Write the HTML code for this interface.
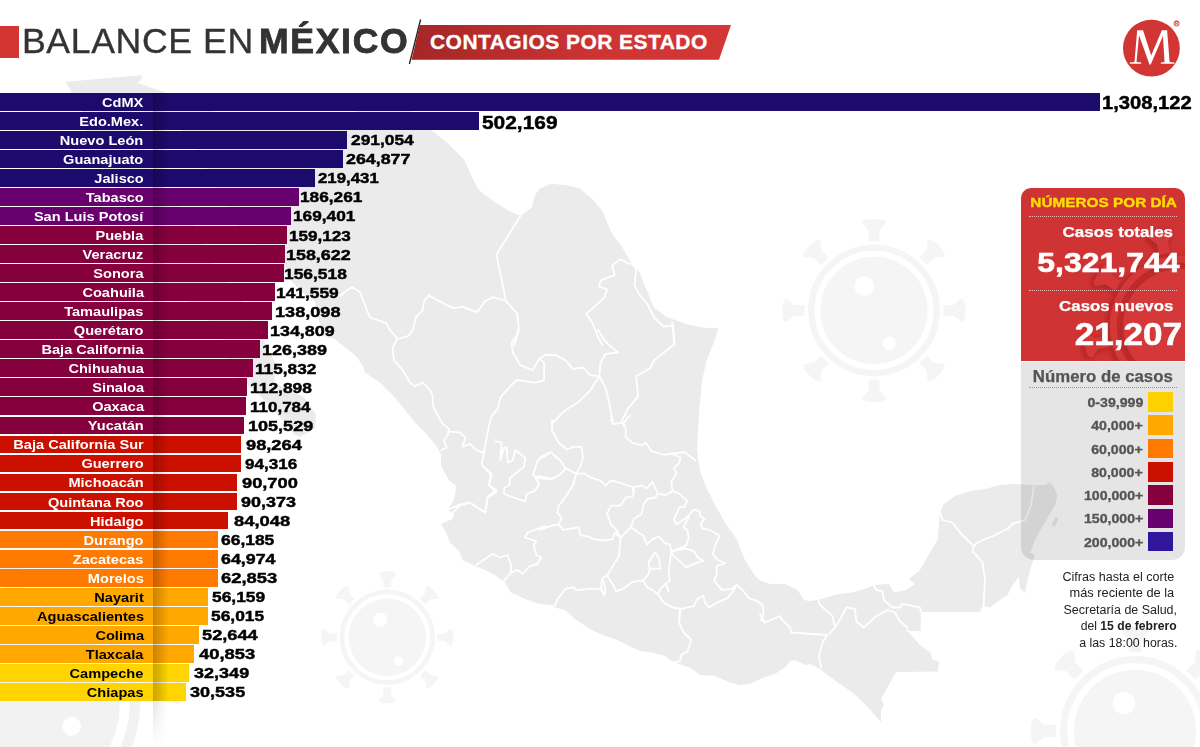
<!DOCTYPE html>
<html lang="es"><head><meta charset="utf-8"><title>Balance en México</title>
<style>
html,body{margin:0;padding:0;background:#fff;}
body{width:1200px;height:747px;position:relative;overflow:hidden;font-family:"Liberation Sans",sans-serif;}
.abs{position:absolute;}
.bar{position:absolute;left:0;}
.lbl{position:absolute;right:0;top:0.9px;white-space:nowrap;font-weight:bold;font-size:13.5px;line-height:18px;transform-origin:right center;transform:scaleX(1.08);}
.val{position:absolute;white-space:nowrap;font-weight:bold;color:#000;font-size:15.1px;line-height:18px;-webkit-text-stroke:0.45px #000;transform-origin:left center;transform:scaleX(1.15);}
.val.big{font-size:18px;margin-top:0.8px}
.t{position:absolute;white-space:nowrap;}
</style></head>
<body>
<svg class="abs" style="left:0;top:0" width="1200" height="747" viewBox="0 0 1200 747">
<g transform="translate(874.0 310.4) rotate(0.0)" fill="#f5f5f5">
<circle r="53.6"/>
<circle r="62.7" fill="none" stroke="#f5f5f5" stroke-width="6.3"/>
<path d="M-5.40,-69.42 L-5.40,-79.88 L-11.71,-87.12 C-11.71,-90.80 -5.86,-91.46 0,-91.46 C5.86,-91.46 11.71,-90.80 11.71,-87.12 L5.40,-79.88 L5.40,-69.42 Z" transform="rotate(0)"/>
<path d="M-5.40,-69.42 L-5.40,-79.88 L-11.71,-87.12 C-11.71,-90.80 -5.86,-91.46 0,-91.46 C5.86,-91.46 11.71,-90.80 11.71,-87.12 L5.40,-79.88 L5.40,-69.42 Z" transform="rotate(45)"/>
<path d="M-5.40,-69.42 L-5.40,-79.88 L-11.71,-87.12 C-11.71,-90.80 -5.86,-91.46 0,-91.46 C5.86,-91.46 11.71,-90.80 11.71,-87.12 L5.40,-79.88 L5.40,-69.42 Z" transform="rotate(90)"/>
<path d="M-5.40,-69.42 L-5.40,-79.88 L-11.71,-87.12 C-11.71,-90.80 -5.86,-91.46 0,-91.46 C5.86,-91.46 11.71,-90.80 11.71,-87.12 L5.40,-79.88 L5.40,-69.42 Z" transform="rotate(135)"/>
<path d="M-5.40,-69.42 L-5.40,-79.88 L-11.71,-87.12 C-11.71,-90.80 -5.86,-91.46 0,-91.46 C5.86,-91.46 11.71,-90.80 11.71,-87.12 L5.40,-79.88 L5.40,-69.42 Z" transform="rotate(180)"/>
<path d="M-5.40,-69.42 L-5.40,-79.88 L-11.71,-87.12 C-11.71,-90.80 -5.86,-91.46 0,-91.46 C5.86,-91.46 11.71,-90.80 11.71,-87.12 L5.40,-79.88 L5.40,-69.42 Z" transform="rotate(225)"/>
<path d="M-5.40,-69.42 L-5.40,-79.88 L-11.71,-87.12 C-11.71,-90.80 -5.86,-91.46 0,-91.46 C5.86,-91.46 11.71,-90.80 11.71,-87.12 L5.40,-79.88 L5.40,-69.42 Z" transform="rotate(270)"/>
<path d="M-5.40,-69.42 L-5.40,-79.88 L-11.71,-87.12 C-11.71,-90.80 -5.86,-91.46 0,-91.46 C5.86,-91.46 11.71,-90.80 11.71,-87.12 L5.40,-79.88 L5.40,-69.42 Z" transform="rotate(315)"/>
<circle cx="-9.7" cy="-24.3" r="9.9" fill="#fff"/>
<circle cx="15.3" cy="32.9" r="6.6" fill="#fff"/>
</g>
<g transform="translate(387.3 637.3) rotate(0.0)" fill="#f5f5f5">
<circle r="38.7"/>
<circle r="45.2" fill="none" stroke="#f5f5f5" stroke-width="4.5"/>
<path d="M-3.90,-50.11 L-3.90,-57.66 L-8.46,-62.89 C-8.46,-65.55 -4.23,-66.02 0,-66.02 C4.23,-66.02 8.46,-65.55 8.46,-62.89 L3.90,-57.66 L3.90,-50.11 Z" transform="rotate(0)"/>
<path d="M-3.90,-50.11 L-3.90,-57.66 L-8.46,-62.89 C-8.46,-65.55 -4.23,-66.02 0,-66.02 C4.23,-66.02 8.46,-65.55 8.46,-62.89 L3.90,-57.66 L3.90,-50.11 Z" transform="rotate(45)"/>
<path d="M-3.90,-50.11 L-3.90,-57.66 L-8.46,-62.89 C-8.46,-65.55 -4.23,-66.02 0,-66.02 C4.23,-66.02 8.46,-65.55 8.46,-62.89 L3.90,-57.66 L3.90,-50.11 Z" transform="rotate(90)"/>
<path d="M-3.90,-50.11 L-3.90,-57.66 L-8.46,-62.89 C-8.46,-65.55 -4.23,-66.02 0,-66.02 C4.23,-66.02 8.46,-65.55 8.46,-62.89 L3.90,-57.66 L3.90,-50.11 Z" transform="rotate(135)"/>
<path d="M-3.90,-50.11 L-3.90,-57.66 L-8.46,-62.89 C-8.46,-65.55 -4.23,-66.02 0,-66.02 C4.23,-66.02 8.46,-65.55 8.46,-62.89 L3.90,-57.66 L3.90,-50.11 Z" transform="rotate(180)"/>
<path d="M-3.90,-50.11 L-3.90,-57.66 L-8.46,-62.89 C-8.46,-65.55 -4.23,-66.02 0,-66.02 C4.23,-66.02 8.46,-65.55 8.46,-62.89 L3.90,-57.66 L3.90,-50.11 Z" transform="rotate(225)"/>
<path d="M-3.90,-50.11 L-3.90,-57.66 L-8.46,-62.89 C-8.46,-65.55 -4.23,-66.02 0,-66.02 C4.23,-66.02 8.46,-65.55 8.46,-62.89 L3.90,-57.66 L3.90,-50.11 Z" transform="rotate(270)"/>
<path d="M-3.90,-50.11 L-3.90,-57.66 L-8.46,-62.89 C-8.46,-65.55 -4.23,-66.02 0,-66.02 C4.23,-66.02 8.46,-65.55 8.46,-62.89 L3.90,-57.66 L3.90,-50.11 Z" transform="rotate(315)"/>
<circle cx="-7.0" cy="-17.6" r="7.1" fill="#fff"/>
<circle cx="11.0" cy="23.8" r="4.8" fill="#fff"/>
</g>
<g transform="translate(1135.0 731.0) rotate(0.0)" fill="#f5f5f5">
<circle r="61.1"/>
<circle r="71.4" fill="none" stroke="#f5f5f5" stroke-width="7.1"/>
<path d="M-6.15,-79.12 L-6.15,-91.05 L-13.35,-99.30 C-13.35,-103.50 -6.67,-104.25 0,-104.25 C6.67,-104.25 13.35,-103.50 13.35,-99.30 L6.15,-91.05 L6.15,-79.12 Z" transform="rotate(0)"/>
<path d="M-6.15,-79.12 L-6.15,-91.05 L-13.35,-99.30 C-13.35,-103.50 -6.67,-104.25 0,-104.25 C6.67,-104.25 13.35,-103.50 13.35,-99.30 L6.15,-91.05 L6.15,-79.12 Z" transform="rotate(45)"/>
<path d="M-6.15,-79.12 L-6.15,-91.05 L-13.35,-99.30 C-13.35,-103.50 -6.67,-104.25 0,-104.25 C6.67,-104.25 13.35,-103.50 13.35,-99.30 L6.15,-91.05 L6.15,-79.12 Z" transform="rotate(90)"/>
<path d="M-6.15,-79.12 L-6.15,-91.05 L-13.35,-99.30 C-13.35,-103.50 -6.67,-104.25 0,-104.25 C6.67,-104.25 13.35,-103.50 13.35,-99.30 L6.15,-91.05 L6.15,-79.12 Z" transform="rotate(135)"/>
<path d="M-6.15,-79.12 L-6.15,-91.05 L-13.35,-99.30 C-13.35,-103.50 -6.67,-104.25 0,-104.25 C6.67,-104.25 13.35,-103.50 13.35,-99.30 L6.15,-91.05 L6.15,-79.12 Z" transform="rotate(180)"/>
<path d="M-6.15,-79.12 L-6.15,-91.05 L-13.35,-99.30 C-13.35,-103.50 -6.67,-104.25 0,-104.25 C6.67,-104.25 13.35,-103.50 13.35,-99.30 L6.15,-91.05 L6.15,-79.12 Z" transform="rotate(225)"/>
<path d="M-6.15,-79.12 L-6.15,-91.05 L-13.35,-99.30 C-13.35,-103.50 -6.67,-104.25 0,-104.25 C6.67,-104.25 13.35,-103.50 13.35,-99.30 L6.15,-91.05 L6.15,-79.12 Z" transform="rotate(270)"/>
<path d="M-6.15,-79.12 L-6.15,-91.05 L-13.35,-99.30 C-13.35,-103.50 -6.67,-104.25 0,-104.25 C6.67,-104.25 13.35,-103.50 13.35,-99.30 L6.15,-91.05 L6.15,-79.12 Z" transform="rotate(315)"/>
<circle cx="-11.1" cy="-27.8" r="11.2" fill="#fff"/>
<circle cx="17.4" cy="37.5" r="7.5" fill="#fff"/>
</g>
<g transform="translate(30.0 705.0) rotate(-8.0)" fill="#f2f2f2">
<circle r="89.6"/>
<circle r="104.8" fill="none" stroke="#f2f2f2" stroke-width="10.4"/>
<path d="M-9.02,-116.05 L-9.02,-133.54 L-19.58,-145.64 C-19.58,-151.80 -9.79,-152.90 0,-152.90 C9.79,-152.90 19.58,-151.80 19.58,-145.64 L9.02,-133.54 L9.02,-116.05 Z" transform="rotate(0)"/>
<path d="M-9.02,-116.05 L-9.02,-133.54 L-19.58,-145.64 C-19.58,-151.80 -9.79,-152.90 0,-152.90 C9.79,-152.90 19.58,-151.80 19.58,-145.64 L9.02,-133.54 L9.02,-116.05 Z" transform="rotate(45)"/>
<path d="M-9.02,-116.05 L-9.02,-133.54 L-19.58,-145.64 C-19.58,-151.80 -9.79,-152.90 0,-152.90 C9.79,-152.90 19.58,-151.80 19.58,-145.64 L9.02,-133.54 L9.02,-116.05 Z" transform="rotate(90)"/>
<path d="M-9.02,-116.05 L-9.02,-133.54 L-19.58,-145.64 C-19.58,-151.80 -9.79,-152.90 0,-152.90 C9.79,-152.90 19.58,-151.80 19.58,-145.64 L9.02,-133.54 L9.02,-116.05 Z" transform="rotate(135)"/>
<path d="M-9.02,-116.05 L-9.02,-133.54 L-19.58,-145.64 C-19.58,-151.80 -9.79,-152.90 0,-152.90 C9.79,-152.90 19.58,-151.80 19.58,-145.64 L9.02,-133.54 L9.02,-116.05 Z" transform="rotate(180)"/>
<path d="M-9.02,-116.05 L-9.02,-133.54 L-19.58,-145.64 C-19.58,-151.80 -9.79,-152.90 0,-152.90 C9.79,-152.90 19.58,-151.80 19.58,-145.64 L9.02,-133.54 L9.02,-116.05 Z" transform="rotate(225)"/>
<path d="M-9.02,-116.05 L-9.02,-133.54 L-19.58,-145.64 C-19.58,-151.80 -9.79,-152.90 0,-152.90 C9.79,-152.90 19.58,-151.80 19.58,-145.64 L9.02,-133.54 L9.02,-116.05 Z" transform="rotate(270)"/>
<path d="M-9.02,-116.05 L-9.02,-133.54 L-19.58,-145.64 C-19.58,-151.80 -9.79,-152.90 0,-152.90 C9.79,-152.90 19.58,-151.80 19.58,-145.64 L9.02,-133.54 L9.02,-116.05 Z" transform="rotate(315)"/>
<circle cx="38.2" cy="26.8" r="9.4" fill="#fff"/>
</g>

<path d="M65.8,81.7 L141.7,75.3 L141.9,78.3 L137.2,84.4 L139.5,83.6 L163.5,92.0 L172.0,97.0 L262.4,127.9 L355.2,127.9 L355.2,110.8 L409.8,110.8 L432.0,130.7 L448.0,143.5 L464.0,159.6 L470.7,174.0 L478.7,190.0 L493.0,201.0 L509.0,211.0 L520.5,215.8 L531.7,207.8 L535.0,195.0 L539.8,188.5 L551.0,183.7 L567.0,185.3 L580.0,188.5 L592.8,199.8 L602.4,211.0 L612.0,233.5 L621.7,246.4 L631.3,262.4 L639.4,272.0 L645.8,288.0 L653.8,307.4 L666.7,317.0 L689.0,325.0 L708.4,328.3 L718.4,328.0 L714.0,342.0 L706.0,362.0 L702.0,382.0 L699.5,406.5 L698.0,426.5 L697.0,450.6 L700.0,471.0 L706.0,487.0 L714.0,503.0 L724.0,521.0 L736.5,539.0 L744.5,559.0 L754.5,575.0 L759.0,580.0 L770.0,584.0 L785.0,584.0 L797.5,590.0 L804.0,600.0 L810.0,601.0 L820.0,599.5 L837.5,594.0 L852.5,592.5 L865.0,589.0 L874.0,585.0 L889.0,584.0 L894.0,592.5 L906.0,590.0 L915.0,584.0 L909.0,579.0 L920.0,570.0 L930.0,552.5 L937.5,540.0 L939.0,525.0 L940.0,512.5 L944.0,504.0 L955.0,496.0 L970.0,491.0 L985.0,489.0 L1000.0,485.0 L1015.0,484.0 L1032.5,485.0 L1045.0,485.0 L1050.0,482.5 L1054.0,487.5 L1057.5,496.0 L1055.0,505.0 L1049.0,515.0 L1044.0,524.0 L1039.0,532.5 L1035.0,540.0 L1032.5,547.5 L1030.0,552.5 L1035.0,555.0 L1032.5,562.5 L1030.0,570.0 L1027.5,580.0 L1025.0,593.0 L1020.0,588.0 L1019.0,577.0 L1012.5,585.0 L1007.5,595.0 L1000.0,600.0 L990.0,607.5 L982.5,606.0 L980.0,612.0 L921.0,612.0 L920.5,631.0 L907.5,631.0 L920.0,645.0 L930.0,652.5 L932.5,660.0 L939.0,661.0 L938.0,671.5 L896.0,672.0 L881.0,699.0 L884.0,705.0 L881.0,710.0 L881.0,722.0 L865.0,704.0 L852.5,692.5 L840.0,684.0 L827.5,675.0 L820.0,669.0 L810.0,664.0 L805.0,665.0 L795.0,660.0 L790.0,661.0 L785.0,667.5 L775.0,674.0 L760.0,679.0 L750.0,684.0 L740.0,685.0 L730.0,682.5 L715.0,676.0 L700.0,675.0 L690.0,667.5 L674.0,662.5 L665.0,656.0 L652.5,652.5 L640.0,651.0 L632.5,647.5 L617.5,640.0 L600.0,634.0 L590.0,629.0 L575.0,619.0 L565.0,610.0 L555.0,607.5 L540.0,604.0 L525.0,599.0 L511.0,592.5 L505.0,582.5 L495.0,575.0 L485.0,570.0 L475.0,566.0 L462.5,560.0 L459.0,551.0 L450.0,542.5 L446.0,532.5 L441.0,524.0 L452.5,519.0 L454.0,514.0 L447.5,510.0 L454.0,500.0 L455.5,492.0 L456.0,486.0 L449.0,480.0 L447.5,477.5 L441.0,466.0 L441.0,455.0 L437.5,447.5 L427.5,435.0 L415.0,422.5 L405.0,410.0 L395.0,397.5 L380.0,382.5 L365.0,372.5 L362.5,365.0 L355.0,355.0 L345.0,347.5 L335.0,339.0 L323.1,336.0 L318.2,318.0 L315.0,301.7 L300.4,290.8 L287.4,276.2 L277.6,257.9 L264.7,254.2 L248.4,237.6 L235.4,222.8 L225.7,204.2 L212.7,181.8 L206.2,166.8 L196.5,148.0 L180.3,129.0 L151.0,117.6 L141.3,110.0 L139.7,121.4 L142.9,140.4 L147.8,163.1 L160.8,185.6 L180.3,208.0 L193.2,222.8 L206.2,252.3 L222.5,278.0 L238.7,296.2 L253.3,321.6 L261.4,336.0 L276.0,364.8 L274.4,382.6 L287.4,389.7 L303.6,396.9 L315.9,414.6 L315.0,428.7 L300.4,436.8 L293.9,434.0 L280.9,418.1 L264.7,400.4 L245.2,382.6 L228.9,375.5 L225.7,361.2 L222.5,336.0 L206.2,318.0 L193.2,303.5 L180.3,298.0 L167.3,288.9 L151.0,270.7 L132.2,257.9 L157.5,257.9 L164.0,252.3 L160.8,230.2 L144.6,215.4 L128.3,200.5 L108.8,181.8 L102.4,163.1 L92.6,140.4 L79.6,121.4 L82.9,108.1 L73.1,102.3 L71.5,93.0 L70.2,89.5 L67.5,85.5Z" fill="#ebebeb"/>
<ellipse cx="1055" cy="522" rx="2" ry="5" transform="rotate(25 1055 522)" fill="#ebebeb"/>
<path d="M520.5,215.8 L496.4,254.4 L506.0,301.0 L517.3,313.8 L518.9,329.9 L514.1,345.0 M506.0,301.0 L493.2,297.1 L485.1,301.0 L477.1,312.2 L462.7,306.8 L453.0,308.1 L438.6,301.0 L428.9,295.2 L424.1,301.0 L422.5,310.6 L416.1,317.0 L412.9,329.9 L408.0,336.3 M629.7,264.0 L620.1,259.2 L612.0,265.6 L614.6,275.3 L600.8,280.1 L599.2,286.5 L607.2,289.7 L604.0,297.8 L586.3,313.8 L592.8,323.5 L597.6,336.3 L602.4,345.0 M631.3,262.4 L636.1,268.9 L634.5,284.9 L639.4,294.6 L647.4,304.2 L653.8,317.0 L663.5,326.7 L673.1,325.1 L674.7,345.0 M397.6,338.8 L392.6,347.5 L393.9,360.1 L402.6,370.1 L410.1,382.6 L415.1,386.3 L422.7,382.6 L430.2,390.1 L432.7,396.4 L432.7,405.1 L437.7,415.1 L442.7,423.9 L449.0,428.9 L447.7,435.2 L443.9,440.2 L446.5,447.7 L441.4,450.2 M449.0,431.4 L460.2,432.7 L465.2,437.7 L462.7,446.5 L470.2,443.9 L476.5,450.2 L484.0,452.7 M484.0,452.7 L489.0,425.2 L491.5,416.4 L497.8,408.9 L500.3,397.6 L510.3,386.3 L516.6,380.1 L535.4,382.6 L544.1,380.1 L544.1,362.6 L539.1,358.8 L532.9,370.1 L520.3,365.1 L512.8,352.5 L511.6,342.5 L516.6,336.3 L517.8,330.0 M539.1,358.8 L545.4,355.0 L555.4,355.0 L565.4,360.1 L572.9,368.8 L582.9,367.6 L590.5,375.1 L599.2,376.3 M599.2,376.3 L600.5,362.6 L605.5,353.8 L618.0,352.5 L610.5,346.3 L604.2,340.0 L598.0,330.0 M599.2,376.3 L590.5,390.1 L577.9,402.6 L565.4,410.1 L556.6,418.9 L551.6,423.9 M599.2,376.3 L605.5,387.6 L609.2,402.6 L613.0,423.9 M623.0,423.9 L630.0,415.1 M484.0,452.7 L481.5,464.0 L491.5,475.3 L489.0,485.3 L496.5,490.3 L487.8,496.5 L485.3,512.8 L470.2,502.8 L460.2,505.3 L452.7,512.8 M550.4,479.0 L532.9,475.3 L537.9,460.2 L550.4,452.7 M495.3,441.4 L501.6,442.7 L500.3,460.2 L504.1,447.7 L506.6,447.7 L507.8,462.7 L512.8,460.2 L515.3,450.2 L525.3,457.7 L524.1,466.5 L510.3,477.8 L509.1,485.3 L504.1,487.8 L504.1,494.0 L525.3,501.6 L526.6,494.0 L535.4,490.3 L539.1,484.0 L535.4,477.8 L551.6,479.0 M940.0,512.5 L942.5,520.0 L952.5,522.5 L960.0,532.5 L967.5,540.0 L973.8,546.2 L977.5,542.5 L992.5,536.2 L1007.5,528.8 L1012.5,523.8 L1025.0,520.0 L1031.2,505.0 L1033.8,486.2 M973.8,546.2 L972.5,551.2 L982.5,562.5 L985.0,580.0 L983.8,600.0 L983.8,606.2 M873.8,585.0 L876.2,590.0 L882.5,591.2 L883.8,600.0 L892.5,607.5 L900.0,607.5 L902.5,603.8 L920.0,607.5 L921.2,611.8 M907.5,631.2 L907.5,627.5 L900.0,621.2 L895.0,612.5 L887.5,610.0 L876.2,616.2 L863.8,627.5 L856.2,621.2 L855.0,608.8 L846.2,607.5 L841.2,617.5 L835.0,627.5 M818.8,601.2 L820.0,605.0 L832.5,616.2 L835.0,627.5 L830.0,633.2 M821.2,667.5 L818.8,656.2 L822.5,642.5 L827.5,635.0 L791.2,632.5 L790.0,627.5 L781.2,618.8 L780.0,616.2 L765.0,622.5 L760.0,613.8 M680.0,610.0 L678.8,622.5 L683.8,632.5 L691.2,640.0 L687.5,651.2 L681.2,655.0 L680.0,661.2 L673.8,662.5 M476.2,565.0 L492.5,553.8 L500.0,557.5 L507.5,555.0 L511.2,565.0 L511.2,572.5 L503.8,581.2 M511.2,572.5 L517.5,570.0 L522.5,573.8 L530.0,566.2 L537.5,563.8 L541.2,557.5 M541.2,557.5 L536.2,555.0 L533.8,545.0 L536.2,541.2 L525.0,537.5 L527.5,532.5 L545.0,526.2 M447.5,510.0 L458.8,505.0 L470.0,502.5 L485.0,512.5 L487.5,497.5 L496.2,492.5 L488.8,485.0 L491.2,473.8 L487.5,470.0 M624.0,426.5 L622.0,420.5 M672.2,322.1 L674.2,344.2 L654.1,360.3 L650.1,368.3 L636.1,376.3 L638.1,396.4 L628.0,408.5 L622.0,420.5 M352.0,287.0 L345.0,292.0 L340.0,296.0 M352.0,287.0 L360.0,292.0 L365.0,305.0 L370.0,317.5 L386.0,323.0 L390.0,330.0 L397.5,339.0 M408.0,336.0 L397.5,339.0 M552.1,420.0 L552.1,430.7 L558.8,442.8 L566.8,449.5 L573.5,446.8 L581.5,446.8 L582.9,457.5 L580.2,466.9 L576.2,473.6 M540.0,457.5 L550.7,452.1 L560.1,460.2 L565.4,468.2 L576.2,473.6 M540.0,476.3 L552.1,478.9 L561.4,473.6 L565.4,468.2 M576.2,473.6 L584.2,473.6 L590.9,477.6 L600.3,480.3 L605.6,485.6 L611.0,480.3 L620.4,482.9 L632.4,487.0 L633.8,493.7 M576.2,473.6 L573.5,484.3 L566.8,495.0 L558.8,505.7 L557.4,512.4 L561.4,517.8 L558.8,524.5 L550.7,525.8 L540.0,529.8 M558.8,524.5 L562.8,529.8 L572.1,528.5 L578.8,527.1 L580.2,535.2 L588.2,536.5 L593.6,539.2 L602.9,540.5 L612.3,539.2 L615.0,532.5 L620.4,537.9 M633.8,493.7 L632.4,496.3 L625.7,497.7 L620.4,505.7 L611.0,505.7 L607.0,513.8 L611.0,524.5 L616.3,529.8 L620.4,537.9 M633.8,493.7 L633.8,487.0 L641.8,485.6 L647.1,488.3 L652.5,481.6 L656.5,491.0 L657.9,493.7 M657.9,493.7 L655.2,497.7 L647.1,499.0 L643.1,505.7 L641.8,513.8 L633.8,519.1 L631.1,527.1 L620.4,537.9 M620.4,537.9 L619.0,556.6 L613.7,564.6 L607.0,575.4 L602.1,578.6 L601.1,587.4 L604.3,594.6 L605.6,590.1 L603.2,580.7 M631.1,527.1 L637.8,532.5 L643.1,535.2 L647.1,544.6 L652.5,539.2 L659.2,536.5 L664.6,543.2 L669.9,544.6 L671.3,551.3 M657.9,493.7 L665.9,495.0 L672.6,491.0 L671.3,481.6 L676.6,473.6 L673.9,468.2 L679.3,462.9 L680.6,457.5 L671.3,453.5 M611.0,420.0 L613.7,424.0 L623.0,422.7 L625.7,428.0 L625.7,437.4 L632.4,442.8 L641.8,445.4 L645.8,442.8 L651.2,450.8 L659.2,453.5 L664.6,454.8 L671.3,453.5 L684.6,452.1 L690.0,456.2 L695.4,460.2 M672.6,491.0 L679.3,493.7 L683.3,497.7 L687.3,500.4 L684.6,507.1 L679.3,507.1 L676.6,513.8 L673.9,519.1 L676.6,524.5 L684.6,519.1 L690.0,513.8 L687.3,520.4 L683.3,527.1 L687.3,529.8 L688.7,537.9 L686.0,545.9 L671.3,551.3 M690.0,513.8 L694.0,509.7 L699.4,511.1 L700.7,516.4 L704.7,519.1 L700.7,523.1 L702.1,528.5 L708.8,529.8 L716.8,533.8 L719.5,536.5 L715.4,544.6 L712.8,553.9 L716.8,559.3 L724.8,563.3 L716.8,566.0 L716.8,574.0 L714.1,580.7 L722.1,590.1 L731.5,588.8 L736.9,584.7 M671.3,551.3 L679.3,549.9 L686.0,548.6 L694.0,551.3 L698.0,557.9 L703.4,560.6 L695.4,563.3 L686.0,567.3 L679.3,560.6 L673.9,556.6 L671.3,551.3 M671.3,551.3 L669.9,562.0 L668.6,572.7 L669.9,580.7 L665.9,583.4 L668.6,591.4 M655.2,552.6 L659.2,559.3 L660.5,568.7 L649.8,568.7 L648.5,562.0 L655.2,552.6 M649.8,568.7 L648.5,574.0 L643.1,580.7 L647.1,587.4 L652.5,590.1 L657.9,594.1 L660.5,588.8 L665.9,583.4 M607.0,575.4 L613.7,586.1 L616.3,591.4 L623.0,588.8 L632.4,582.1 L637.8,580.7 L643.1,580.7 M540.0,604.8 L554.7,606.2 L557.4,599.5 L565.4,588.8 L573.5,587.4 L576.2,590.1 L590.9,588.8 L600.3,588.8 L604.3,595.4 M657.9,594.1 L663.2,602.1 L672.6,607.5 L680.6,608.8 L694.0,606.2 L696.7,599.5 L703.4,595.4 L704.7,602.1 L708.8,607.5 L718.1,602.1 L727.5,598.1 L732.9,591.4 L736.9,584.7 M680.6,608.8 L679.3,620.1 M736.9,584.7 L743.6,591.4 L748.9,598.1 L757.0,600.8 L762.3,604.8 L763.7,612.9 L761.0,620.1 M761.0,620.1 L765.0,622.5 M679.3,620.1 L678.8,622.5" fill="none" stroke="#fff" stroke-width="1.8" stroke-linejoin="round" stroke-linecap="round" opacity="1"/>

</svg>
<div class="abs" style="left:0;top:26px;width:19px;height:32px;background:#d33533"></div>
<div class="t" id="t1" style="left:22.4px;top:20.6px;font-size:34.6px;line-height:40px;color:#333;letter-spacing:0.6px;-webkit-text-stroke:0.35px #333;transform-origin:left center;transform:scaleX(1.03)">BALANCE EN</div>
<div class="t" id="t2" style="left:259.2px;top:20.6px;font-size:34.6px;line-height:40px;color:#333;font-weight:bold;letter-spacing:1.6px;-webkit-text-stroke:0.8px #333;transform-origin:left center;transform:scaleX(1.03)">MÉXICO</div>
<svg class="abs" style="left:400px;top:15px" width="340" height="55" viewBox="400 15 340 55"><defs><linearGradient id="rg" x1="0" x2="1" y1="0" y2="0"><stop offset="0" stop-color="#a52626"/><stop offset="0.6" stop-color="#cf3434"/><stop offset="1" stop-color="#d43636"/></linearGradient></defs><polygon points="419.8,25 731,25 719,59.7 411.6,59.7" fill="url(#rg)"/><line x1="420.6" y1="19.5" x2="409.4" y2="64" stroke="#222" stroke-width="1.3"/></svg>
<div class="t" id="sub" style="-webkit-text-stroke:0.3px #fff;left:430px;top:30.3px;font-size:21px;line-height:24px;color:#fff;font-weight:bold;letter-spacing:0.45px">CONTAGIOS POR ESTADO</div>
<svg class="abs" style="left:1115px;top:12px" width="80" height="72" viewBox="1115 12 80 72"><circle cx="1151.4" cy="48.2" r="28.4" fill="#d33533"/><path d="M1137.15,30.34 L1143.04,30.34 L1151.18,55.50 L1161.88,30.34 L1167.13,30.34 L1169.59,62.03 L1174.41,62.46 L1174.41,63.75 L1160.81,63.75 L1160.81,62.46 L1164.56,62.03 L1162.96,35.91 L1150.75,64.39 L1149.46,64.39 L1139.08,35.27 L1136.51,62.03 L1141.22,62.46 L1141.22,63.75 L1129.76,63.75 L1129.76,62.46 L1134.48,62.03Z" fill="#fff"/><circle cx="1176.6" cy="23.4" r="2.6" fill="none" stroke="#d33533" stroke-width="0.9"/><text x="1176.6" y="25.2" font-family="Liberation Sans" font-size="4.6" font-weight="bold" fill="#d33533" text-anchor="middle">R</text></svg>
<div class="bar" style="top:93.00px;width:1099.6px;height:17.8px;background:#1c0a6c"><div class="lbl" style="right:955.9px;color:#fff">CdMX</div></div>
<div class="val big" style="left:1101.80px;top:93.30px;transform:scaleX(1.1210)">1,308,122</div>
<div class="bar" style="top:112.03px;width:479.0px;height:17.8px;background:#1c0a6c"><div class="lbl" style="right:335.3px;color:#fff">Edo.Mex.</div></div>
<div class="val big" style="left:481.90px;top:113.23px;transform:scaleX(1.1603)">502,169</div>
<div class="bar" style="top:131.06px;width:347.0px;height:17.8px;background:#1c0a6c"><div class="lbl" style="right:203.3px;color:#fff">Nuevo León</div></div>
<div class="val" style="left:351.00px;top:131.36px;transform:scaleX(1.1491)">291,054</div>
<div class="bar" style="top:150.09px;width:342.8px;height:17.8px;background:#1c0a6c"><div class="lbl" style="right:199.1px;color:#fff">Guanajuato</div></div>
<div class="val" style="left:345.80px;top:150.39px;transform:scaleX(1.1797)">264,877</div>
<div class="bar" style="top:169.12px;width:314.8px;height:17.8px;background:#1c0a6c"><div class="lbl" style="right:171.1px;color:#fff">Jalisco</div></div>
<div class="val" style="left:318.30px;top:169.42px;transform:scaleX(1.1129)">219,431</div>
<div class="bar" style="top:188.15px;width:298.8px;height:17.8px;background:#68006e"><div class="lbl" style="right:155.1px;color:#fff">Tabasco</div></div>
<div class="val" style="left:300.40px;top:188.45px;transform:scaleX(1.1443)">186,261</div>
<div class="bar" style="top:207.18px;width:291.0px;height:17.8px;background:#68006e"><div class="lbl" style="right:147.3px;color:#fff">San Luis Potosí</div></div>
<div class="val" style="left:293.10px;top:207.48px;transform:scaleX(1.1425)">169,401</div>
<div class="bar" style="top:226.21px;width:287.0px;height:17.8px;background:#86003e"><div class="lbl" style="right:143.3px;color:#fff">Puebla</div></div>
<div class="val" style="left:288.60px;top:226.51px;transform:scaleX(1.1330)">159,123</div>
<div class="bar" style="top:245.24px;width:285.2px;height:17.8px;background:#86003e"><div class="lbl" style="right:141.5px;color:#fff">Veracruz</div></div>
<div class="val" style="left:286.40px;top:245.54px;transform:scaleX(1.1858)">158,622</div>
<div class="bar" style="top:264.27px;width:283.8px;height:17.8px;background:#86003e"><div class="lbl" style="right:140.1px;color:#fff">Sonora</div></div>
<div class="val" style="left:284.20px;top:264.57px;transform:scaleX(1.1519)">156,518</div>
<div class="bar" style="top:283.30px;width:274.5px;height:17.8px;background:#86003e"><div class="lbl" style="right:130.8px;color:#fff">Coahuila</div></div>
<div class="val" style="left:275.50px;top:283.60px;transform:scaleX(1.1500)">141,559</div>
<div class="bar" style="top:302.33px;width:272.0px;height:17.8px;background:#86003e"><div class="lbl" style="right:128.3px;color:#fff">Tamaulipas</div></div>
<div class="val" style="left:275.10px;top:302.63px;transform:scaleX(1.2009)">138,098</div>
<div class="bar" style="top:321.36px;width:268.2px;height:17.8px;background:#86003e"><div class="lbl" style="right:124.5px;color:#fff">Querétaro</div></div>
<div class="val" style="left:270.00px;top:321.66px;transform:scaleX(1.1839)">134,809</div>
<div class="bar" style="top:340.39px;width:259.7px;height:17.8px;background:#86003e"><div class="lbl" style="right:116.0px;color:#fff">Baja California</div></div>
<div class="val" style="left:261.60px;top:340.69px;transform:scaleX(1.1915)">126,389</div>
<div class="bar" style="top:359.42px;width:252.7px;height:17.8px;background:#86003e"><div class="lbl" style="right:109.0px;color:#fff">Chihuahua</div></div>
<div class="val" style="left:255.30px;top:359.72px;transform:scaleX(1.1406)">115,832</div>
<div class="bar" style="top:378.45px;width:247.4px;height:17.8px;background:#86003e"><div class="lbl" style="right:103.7px;color:#fff">Sinaloa</div></div>
<div class="val" style="left:249.50px;top:378.75px;transform:scaleX(1.1538)">112,898</div>
<div class="bar" style="top:397.48px;width:246.0px;height:17.8px;background:#86003e"><div class="lbl" style="right:102.3px;color:#fff">Oaxaca</div></div>
<div class="val" style="left:250.10px;top:397.78px;transform:scaleX(1.1255)">110,784</div>
<div class="bar" style="top:416.51px;width:243.7px;height:17.8px;background:#86003e"><div class="lbl" style="right:100.0px;color:#fff">Yucatán</div></div>
<div class="val" style="left:247.60px;top:416.81px;transform:scaleX(1.1952)">105,529</div>
<div class="bar" style="top:435.54px;width:240.7px;height:17.8px;background:#cc1000"><div class="lbl" style="right:97.0px;color:#fff">Baja California Sur</div></div>
<div class="val" style="left:245.90px;top:435.84px;transform:scaleX(1.2086)">98,264</div>
<div class="bar" style="top:454.57px;width:240.7px;height:17.8px;background:#cc1000"><div class="lbl" style="right:97.0px;color:#fff">Guerrero</div></div>
<div class="val" style="left:245.40px;top:454.87px;transform:scaleX(1.1305)">94,316</div>
<div class="bar" style="top:473.60px;width:236.8px;height:17.8px;background:#cc1000"><div class="lbl" style="right:93.1px;color:#fff">Michoacán</div></div>
<div class="val" style="left:241.90px;top:473.90px;transform:scaleX(1.2086)">90,700</div>
<div class="bar" style="top:492.63px;width:236.8px;height:17.8px;background:#cc1000"><div class="lbl" style="right:93.1px;color:#fff">Quintana Roo</div></div>
<div class="val" style="left:241.00px;top:492.93px;transform:scaleX(1.1891)">90,373</div>
<div class="bar" style="top:511.66px;width:228.4px;height:17.8px;background:#cc1000"><div class="lbl" style="right:84.7px;color:#fff">Hidalgo</div></div>
<div class="val" style="left:233.50px;top:511.96px;transform:scaleX(1.2151)">84,048</div>
<div class="bar" style="top:530.69px;width:217.5px;height:17.8px;background:#ff7a00"><div class="lbl" style="right:73.8px;color:#fff">Durango</div></div>
<div class="val" style="left:221.30px;top:530.99px;transform:scaleX(1.1543)">66,185</div>
<div class="bar" style="top:549.72px;width:217.5px;height:17.8px;background:#ff7a00"><div class="lbl" style="right:73.8px;color:#fff">Zacatecas</div></div>
<div class="val" style="left:221.30px;top:550.02px;transform:scaleX(1.1804)">64,974</div>
<div class="bar" style="top:568.75px;width:217.5px;height:17.8px;background:#ff7a00"><div class="lbl" style="right:73.8px;color:#fff">Morelos</div></div>
<div class="val" style="left:221.30px;top:569.05px;transform:scaleX(1.2194)">62,853</div>
<div class="bar" style="top:587.78px;width:208.3px;height:17.8px;background:#ffa800"><div class="lbl" style="right:64.6px;color:#000">Nayarit</div></div>
<div class="val" style="left:212.30px;top:588.08px;transform:scaleX(1.1500)">56,159</div>
<div class="bar" style="top:606.81px;width:208.3px;height:17.8px;background:#ffa800"><div class="lbl" style="right:64.6px;color:#000">Aguascalientes</div></div>
<div class="val" style="left:211.40px;top:607.11px;transform:scaleX(1.1500)">56,015</div>
<div class="bar" style="top:625.84px;width:198.9px;height:17.8px;background:#ffa800"><div class="lbl" style="right:55.2px;color:#000">Colima</div></div>
<div class="val" style="left:202.20px;top:626.14px;transform:scaleX(1.2064)">52,644</div>
<div class="bar" style="top:644.87px;width:193.6px;height:17.8px;background:#ffa800"><div class="lbl" style="right:49.9px;color:#000">Tlaxcala</div></div>
<div class="val" style="left:198.60px;top:645.17px;transform:scaleX(1.2194)">40,853</div>
<div class="bar" style="top:663.90px;width:189.0px;height:17.8px;background:#ffd400"><div class="lbl" style="right:45.3px;color:#000">Campeche</div></div>
<div class="val" style="left:194.20px;top:664.20px;transform:scaleX(1.1956)">32,349</div>
<div class="bar" style="top:682.93px;width:185.6px;height:17.8px;background:#ffd400"><div class="lbl" style="right:41.9px;color:#000">Chiapas</div></div>
<div class="val" style="left:190.20px;top:683.23px;transform:scaleX(1.1956)">30,535</div>
<div class="abs" style="left:153px;top:93px;width:16px;height:607.7px;background:linear-gradient(90deg,rgba(0,0,0,0.22),rgba(0,0,0,0))"></div>
<div class="abs" style="left:153px;top:700.7px;width:14px;height:46px;background:linear-gradient(90deg,rgba(0,0,0,0.10),rgba(0,0,0,0));-webkit-mask-image:linear-gradient(180deg,#000,transparent);mask-image:linear-gradient(180deg,#000,transparent)"></div>
<div class="abs" style="left:1021px;top:188px;width:164px;height:172.5px;background:#d03333;border-radius:10px 10px 0 0;overflow:hidden"><svg width="164" height="173" viewBox="1021 188 164 173"><defs><filter id="ws" x="-20%" y="-20%" width="140%" height="140%"><feDropShadow dx="-2" dy="1.5" stdDeviation="3" flood-color="#7a0c0c" flood-opacity="0.55"/></filter></defs><g filter="url(#ws)"><g transform="translate(1180.0 326.0) rotate(-12.0)" fill="#d53737">
<circle r="57.0"/>
<circle r="66.7" fill="none" stroke="#d53737" stroke-width="6.7"/>
<path d="M-5.74,-73.85 L-5.74,-84.98 L-12.46,-92.68 C-12.46,-96.60 -6.23,-97.30 0,-97.30 C6.23,-97.30 12.46,-96.60 12.46,-92.68 L5.74,-84.98 L5.74,-73.85 Z" transform="rotate(0)"/>
<path d="M-5.74,-73.85 L-5.74,-84.98 L-12.46,-92.68 C-12.46,-96.60 -6.23,-97.30 0,-97.30 C6.23,-97.30 12.46,-96.60 12.46,-92.68 L5.74,-84.98 L5.74,-73.85 Z" transform="rotate(45)"/>
<path d="M-5.74,-73.85 L-5.74,-84.98 L-12.46,-92.68 C-12.46,-96.60 -6.23,-97.30 0,-97.30 C6.23,-97.30 12.46,-96.60 12.46,-92.68 L5.74,-84.98 L5.74,-73.85 Z" transform="rotate(90)"/>
<path d="M-5.74,-73.85 L-5.74,-84.98 L-12.46,-92.68 C-12.46,-96.60 -6.23,-97.30 0,-97.30 C6.23,-97.30 12.46,-96.60 12.46,-92.68 L5.74,-84.98 L5.74,-73.85 Z" transform="rotate(135)"/>
<path d="M-5.74,-73.85 L-5.74,-84.98 L-12.46,-92.68 C-12.46,-96.60 -6.23,-97.30 0,-97.30 C6.23,-97.30 12.46,-96.60 12.46,-92.68 L5.74,-84.98 L5.74,-73.85 Z" transform="rotate(180)"/>
<path d="M-5.74,-73.85 L-5.74,-84.98 L-12.46,-92.68 C-12.46,-96.60 -6.23,-97.30 0,-97.30 C6.23,-97.30 12.46,-96.60 12.46,-92.68 L5.74,-84.98 L5.74,-73.85 Z" transform="rotate(225)"/>
<path d="M-5.74,-73.85 L-5.74,-84.98 L-12.46,-92.68 C-12.46,-96.60 -6.23,-97.30 0,-97.30 C6.23,-97.30 12.46,-96.60 12.46,-92.68 L5.74,-84.98 L5.74,-73.85 Z" transform="rotate(270)"/>
<path d="M-5.74,-73.85 L-5.74,-84.98 L-12.46,-92.68 C-12.46,-96.60 -6.23,-97.30 0,-97.30 C6.23,-97.30 12.46,-96.60 12.46,-92.68 L5.74,-84.98 L5.74,-73.85 Z" transform="rotate(315)"/>
</g></g></svg></div>
<div class="abs" style="left:1021px;top:362.4px;width:164px;height:197.6px;background:rgba(0,0,0,0.10);border-radius:0 0 13px 13px"></div>
<div class="t" id="npd" style="right:23.6px;top:194.5px;font-size:13.6px;line-height:16px;color:#ffe000;font-weight:bold;-webkit-text-stroke:0.3px #ffe000;transform-origin:right center;transform:scaleX(1.128)">NÚMEROS POR DÍA</div>
<div class="abs" style="left:1029px;top:216px;width:148px;height:0;border-top:1px dotted rgba(255,255,255,0.65)"></div>
<div class="t" id="ct" style="-webkit-text-stroke:0.25px #fff;right:26.8px;top:223.2px;font-size:15.4px;line-height:18px;color:#fff;font-weight:bold;transform-origin:right center;transform:scaleX(1.105)">Casos totales</div>
<div class="t" id="n1" style="-webkit-text-stroke:0.6px #fff;right:20.2px;top:247.1px;font-size:28px;line-height:32px;color:#fff;font-weight:bold;transform-origin:right center;transform:scaleX(1.142)">5,321,744</div>
<div class="abs" style="left:1029px;top:290px;width:148px;height:0;border-top:1px dotted rgba(255,255,255,0.65)"></div>
<div class="t" id="cn" style="-webkit-text-stroke:0.25px #fff;right:26.8px;top:296.9px;font-size:15.4px;line-height:18px;color:#fff;font-weight:bold;transform-origin:right center;transform:scaleX(1.095)">Casos nuevos</div>
<div class="t" id="n2" style="-webkit-text-stroke:0.6px #fff;right:18.2px;top:317.4px;font-size:31.4px;line-height:36px;color:#fff;font-weight:bold;transform-origin:right center;transform:scaleX(1.117)">21,207</div>
<div class="t" id="ndc" style="-webkit-text-stroke:0.25px #555;right:27.4px;top:367.7px;font-size:15.7px;line-height:18px;color:#555;font-weight:bold;transform-origin:right center;transform:scaleX(1.07)">Número de casos</div>
<div class="abs" style="left:1029px;top:387px;width:148px;height:0;border-top:1px dotted #999"></div>
<div class="abs" style="left:1147.8px;top:392.0px;width:25px;height:19.7px;background:#ffd000"></div>
<div class="t lg" style="-webkit-text-stroke:0.3px #555;right:57px;top:392.9px;font-size:12px;line-height:20px;color:#555;font-weight:bold;transform-origin:right center;transform:scaleX(1.18)">0-39,999</div>
<div class="abs" style="left:1147.8px;top:415.3px;width:25px;height:19.7px;background:#ffa800"></div>
<div class="t lg" style="-webkit-text-stroke:0.3px #555;right:57px;top:416.2px;font-size:12px;line-height:20px;color:#555;font-weight:bold;transform-origin:right center;transform:scaleX(1.18)">40,000+</div>
<div class="abs" style="left:1147.8px;top:438.6px;width:25px;height:19.7px;background:#ff7a00"></div>
<div class="t lg" style="-webkit-text-stroke:0.3px #555;right:57px;top:439.5px;font-size:12px;line-height:20px;color:#555;font-weight:bold;transform-origin:right center;transform:scaleX(1.18)">60,000+</div>
<div class="abs" style="left:1147.8px;top:461.9px;width:25px;height:19.7px;background:#cc1000"></div>
<div class="t lg" style="-webkit-text-stroke:0.3px #555;right:57px;top:462.8px;font-size:12px;line-height:20px;color:#555;font-weight:bold;transform-origin:right center;transform:scaleX(1.18)">80,000+</div>
<div class="abs" style="left:1147.8px;top:485.2px;width:25px;height:19.7px;background:#86003e"></div>
<div class="t lg" style="-webkit-text-stroke:0.3px #555;right:57px;top:486.1px;font-size:12px;line-height:20px;color:#555;font-weight:bold;transform-origin:right center;transform:scaleX(1.18)">100,000+</div>
<div class="abs" style="left:1147.8px;top:508.5px;width:25px;height:19.7px;background:#68006e"></div>
<div class="t lg" style="-webkit-text-stroke:0.3px #555;right:57px;top:509.4px;font-size:12px;line-height:20px;color:#555;font-weight:bold;transform-origin:right center;transform:scaleX(1.18)">150,000+</div>
<div class="abs" style="left:1147.8px;top:531.8px;width:25px;height:19.7px;background:#30169a"></div>
<div class="t lg" style="-webkit-text-stroke:0.3px #555;right:57px;top:532.7px;font-size:12px;line-height:20px;color:#555;font-weight:bold;transform-origin:right center;transform:scaleX(1.18)">200,000+</div>
<div class="t ft" style="right:26.1px;top:568.6px;font-size:12.5px;line-height:16px;color:#222;transform-origin:right center;transform:scaleX(1.005)">Cifras hasta el corte</div>
<div class="t ft" style="right:26.1px;top:585.2px;font-size:12.5px;line-height:16px;color:#222;transform-origin:right center;transform:scaleX(1.024)">más reciente de la</div>
<div class="t ft" style="right:22.9px;top:601.8px;font-size:12.5px;line-height:16px;color:#222;transform-origin:right center;transform:scaleX(0.995)">Secretaría de Salud,</div>
<div class="t ft" style="right:23.3px;top:618.4px;font-size:12.5px;line-height:16px;color:#222;transform-origin:right center;transform:scaleX(0.972)">del <b>15 de febrero</b></div>
<div class="t ft" style="right:22.9px;top:635.0px;font-size:12.5px;line-height:16px;color:#222;transform-origin:right center;transform:scaleX(0.988)">a las 18:00 horas.</div>
</body></html>
